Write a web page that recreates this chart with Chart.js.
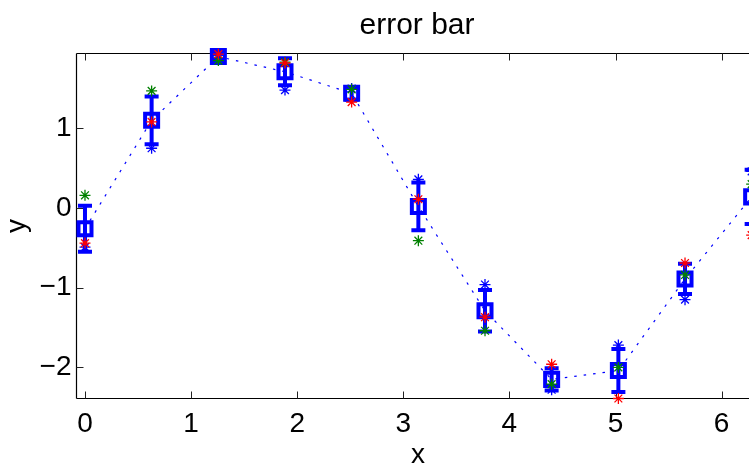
<!DOCTYPE html>
<html><head><meta charset="utf-8">
<script src="https://cdn.jsdelivr.net/npm/chart.js@4/dist/chart.umd.min.js"></script>
<style>html,body{margin:0;padding:0;overflow:hidden;background:#fff}#wrap{width:800px;height:467px}</style>
</head><body><div id="wrap"><canvas id="c" width="800" height="467"></canvas></div>
<script>
// ---- data ----
const xValues    = [0, 0.628, 1.257, 1.885, 2.513, 3.142, 3.770, 4.398, 5.027, 5.655, 6.283];
const meanValues = [-0.26, 1.10, 1.90, 1.71, 1.44, 0.02, -1.29, -2.15, -2.04, -0.89, 0.14];
const errValues  = [0.29, 0.30, 0.035, 0.17, 0.08, 0.30, 0.26, 0.14, 0.27, 0.19, 0.34];
const blueStars  = [-0.49, 0.75, 1.92, 1.48, 1.50, 0.36, -0.96, -2.28, -1.72, -1.15, 0.46];
const greenStars = [0.16, 1.47, 1.85, 1.83, 1.49, -0.41, -1.54, -2.21, -2.00, -0.84, 0.30];
const redStars   = [-0.44, 1.08, 1.93, 1.82, 1.33, 0.11, -1.37, -1.96, -2.39, -0.69, -0.34];
const xTickStep = 1;
const yTickStep = 1;
const titleText = 'error bar';
const xLabel = 'x';
const yLabel = 'y';

const FONT = '"Liberation Sans", Arial, Helvetica, sans-serif';
const fmt = v => (v < 0 ? '\u2212' + Math.abs(v) : String(v));
const pts = arr => xValues.map((x, i) => ({x: x, y: arr[i]}));

const axesPlugin = {
  id: 'axesBox',
  beforeDatasetsDraw(chart) {
    const {ctx, chartArea: a, scales: {x, y}} = chart;
    ctx.save();
    ctx.strokeStyle = '#000';
    ctx.lineWidth = 1.2;
    ctx.beginPath();
    ctx.moveTo(a.left, a.top); ctx.lineTo(a.right, a.top);
    ctx.moveTo(a.left, a.bottom); ctx.lineTo(a.right, a.bottom);
    ctx.moveTo(a.left, a.top); ctx.lineTo(a.left, a.bottom);
    ctx.moveTo(a.right, a.top); ctx.lineTo(a.right, a.bottom);
    ctx.stroke();
    ctx.lineWidth = 1;
    ctx.strokeStyle = '#222';
    ctx.beginPath();
    x.ticks.forEach(t => {
      const px = Math.round(x.getPixelForValue(t.value)) + 0.5;
      ctx.moveTo(px, a.bottom); ctx.lineTo(px, a.bottom - 7);
      ctx.moveTo(px, a.top); ctx.lineTo(px, a.top + 7);
    });
    y.ticks.forEach(t => {
      const py = Math.round(y.getPixelForValue(t.value)) + 0.5;
      ctx.moveTo(a.left, py); ctx.lineTo(a.left + 7, py);
      ctx.moveTo(a.right, py); ctx.lineTo(a.right - 7, py);
    });
    ctx.stroke();
    ctx.restore();
  }
};

const errorBarPlugin = {
  id: 'errorBars',
  afterDatasetDraw(chart, args) {
    if (args.index !== 3) return;
    const {ctx, scales: {x, y}} = chart;
    ctx.save();
    ctx.strokeStyle = '#0000ff';
    ctx.lineWidth = 4;
    ctx.lineCap = 'butt';
    xValues.forEach((xv, i) => {
      const px = x.getPixelForValue(xv);
      const top = y.getPixelForValue(meanValues[i] + errValues[i]);
      const bot = y.getPixelForValue(meanValues[i] - errValues[i]);
      ctx.beginPath();
      ctx.moveTo(px, top); ctx.lineTo(px, bot);
      ctx.moveTo(px - 7, top); ctx.lineTo(px + 7, top);
      ctx.moveTo(px - 7, bot); ctx.lineTo(px + 7, bot);
      ctx.stroke();
    });
    ctx.restore();
  }
};

const titlePlugin = {
  id: 'topTitle',
  afterDraw(chart) {
    const {ctx, chartArea: a} = chart;
    ctx.save();
    ctx.fillStyle = '#000';
    ctx.font = '30px ' + FONT;
    ctx.textAlign = 'center';
    ctx.textBaseline = 'alphabetic';
    ctx.fillText(titleText, (a.left + a.right) / 2 - 1, 34);
    ctx.restore();
  }
};

const starDs = (arr, color, order) => ({
  data: pts(arr), pointStyle: 'star', pointRadius: 5.5, pointHoverRadius: 5.5,
  pointBorderColor: color, pointBackgroundColor: color, pointBorderWidth: 1.3,
  showLine: false, order: order, clip: false
});

new Chart(document.getElementById('c'), {
  type: 'scatter',
  data: {
    datasets: [
      starDs(redStars, '#ff0000', 1),
      starDs(greenStars, '#008000', 2),
      starDs(blueStars, '#0000ff', 3),
      {
        data: pts(meanValues), showLine: true, tension: 0,
        borderColor: '#0000ff', borderWidth: 1.2, borderDash: [2.5, 7],
        pointStyle: 'rect', pointRadius: 9.2, pointHoverRadius: 9.2,
        pointBorderWidth: 4, pointBorderColor: '#0000ff',
        pointBackgroundColor: 'rgba(0,0,0,0)', order: 4, clip: false
      }
    ]
  },
  options: {
    responsive: false, animation: false, devicePixelRatio: 1,
    events: [],
    layout: {padding: {left: 0, top: 53.5, right: 40.5, bottom: 0}},
    plugins: {legend: {display: false}, tooltip: {enabled: false}, title: {display: false}},
    scales: {
      x: {
        type: 'linear', min: -0.08, max: 6.357,
        grid: {display: false, drawTicks: false}, border: {display: false},
        ticks: {stepSize: xTickStep, includeBounds: false, autoSkip: false, maxRotation: 0,
                color: '#000', font: {family: FONT, size: 28}, padding: 8.6, callback: fmt},
        title: {display: true, text: xLabel, color: '#000',
                font: {family: FONT, size: 28, lineHeight: 1}, padding: {top: 0, bottom: -2}},
        afterFit(s) { s.height = 68.5; }
      },
      y: {
        type: 'linear', min: -2.39, max: 1.939,
        grid: {display: false, drawTicks: false}, border: {display: false},
        ticks: {stepSize: yTickStep, includeBounds: false, autoSkip: false,
                color: '#000', font: {family: FONT, size: 28}, padding: 5, callback: fmt},
        title: {display: true, text: yLabel, color: '#000',
                font: {family: FONT, size: 28, lineHeight: 1}, padding: {top: 3, bottom: 0}},
        afterFit(s) { s.width = 76.5; }
      }
    }
  },
  plugins: [axesPlugin, errorBarPlugin, titlePlugin]
});
</script>
</body></html>
